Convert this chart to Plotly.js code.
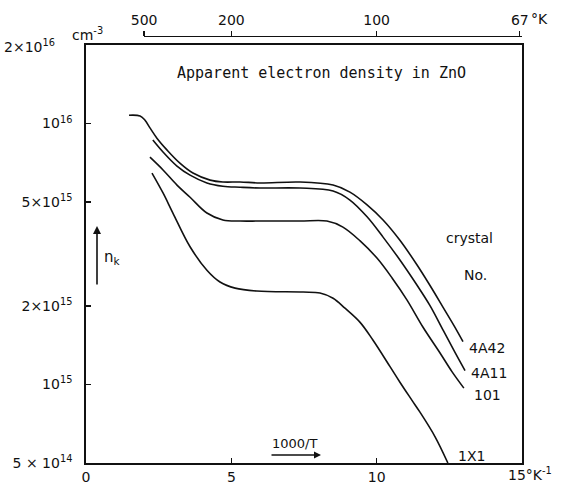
<!DOCTYPE html>
<html>
<head>
<meta charset="utf-8">
<script src="https://cdn.plot.ly/plotly-3.0.1.min.js"></script>
<style>html,body{margin:0;padding:0;background:#fff;}#chart{width:563px;height:485px;}</style>
</head>
<body>
<div id="chart"></div>
<script>
// 1000/T (K^-1) and apparent electron density n_k (cm^-3) per crystal
const x4A42 = [1.48, 1.86, 2.03, 2.20, 2.44, 2.79, 3.23, 3.68, 4.27, 4.71, 5.30, 5.99, 7.36, 8.50, 9.08, 9.67, 10.22, 10.80, 11.39, 11.83, 12.28, 12.69, 12.97];
const n4A42 = [1.076e16, 1.069e16, 1.030e16, 9.62e15, 8.79e15, 7.91e15, 7.05e15, 6.46e15, 6.07e15, 5.97e15, 5.97e15, 5.92e15, 5.97e15, 5.81e15, 5.46e15, 4.88e15, 4.27e15, 3.57e15, 2.87e15, 2.40e15, 1.98e15, 1.66e15, 1.46e15];

const x4A11 = [2.30, 2.65, 3.13, 3.58, 4.16, 4.71, 5.30, 5.99, 7.36, 8.50, 9.08, 9.67, 10.22, 10.80, 11.39, 11.83, 12.28, 12.69, 13.04];
const n4A11 = [8.65e15, 7.78e15, 6.87e15, 6.34e15, 5.92e15, 5.75e15, 5.70e15, 5.66e15, 5.66e15, 5.51e15, 5.09e15, 4.39e15, 3.67e15, 3.00e15, 2.40e15, 2.01e15, 1.62e15, 1.33e15, 1.13e15];

const x101 = [2.20, 2.65, 3.13, 3.58, 4.16, 4.71, 5.30, 5.99, 7.36, 8.29, 8.84, 9.43, 10.01, 10.53, 11.04, 11.59, 12.18, 12.59, 13.00];
const n101 = [7.43e15, 6.64e15, 5.81e15, 5.22e15, 4.54e15, 4.27e15, 4.23e15, 4.23e15, 4.23e15, 4.23e15, 4.01e15, 3.55e15, 3.05e15, 2.56e15, 2.11e15, 1.66e15, 1.32e15, 1.12e15, 9.68e14];

const x1X1 = [2.27, 2.65, 2.99, 3.58, 4.16, 4.61, 5.13, 5.88, 7.47, 8.05, 8.50, 8.91, 9.43, 9.87, 10.46, 10.80, 11.21, 11.49, 12.01, 12.45];
const n1X1 = [6.46e15, 5.42e15, 4.54e15, 3.37e15, 2.74e15, 2.47e15, 2.34e15, 2.28e15, 2.26e15, 2.24e15, 2.14e15, 1.96e15, 1.73e15, 1.48e15, 1.17e15, 1.02e15, 8.71e14, 7.83e14, 6.30e14, 5.00e14];

const crystalNames = ['4A42', '4A11', '101', '1X1'];

// axis ticks
const xTickVals = [0, 5, 10, 15];
const xTickText = ['0', '5', '10', ''];
const yTickVals = [5e14, 1e15, 2e15, 5e15, 1e16];
const yTickText = ['5 × 10<sup>14</sup>', '10<sup>15</sup>', '2×10<sup>15</sup>', '5×10<sup>15</sup>', '10<sup>16</sup>'];
const tempTicks = [500, 200, 100, 67];
const tempText = ['500', '200', '100', '67'];

const FONT = 'DejaVu Sans, Liberation Sans, sans-serif';
const MONO = 'DejaVu Sans Mono, Liberation Mono, monospace';
const INK = '#111';

const series = [[x4A42, n4A42], [x4A11, n4A11], [x101, n101], [x1X1, n1X1]];
const traces = series.map((s, i) => ({
  type: 'scatter', mode: 'lines', x: s[0], y: s[1], name: crystalNames[i],
  line: {color: INK, width: 1.6, shape: 'spline', smoothing: 1},
  hoverinfo: 'skip'
}));
// carrier for top temperature axis
traces.push({
  type: 'scatter', mode: 'markers', x: tempTicks.map(T => 1000 / T), y: tempTicks.map(() => 1e15),
  xaxis: 'x2', yaxis: 'y', marker: {opacity: 0, size: 1}, hoverinfo: 'skip', showlegend: false
});

// pixel helpers for paper coordinates (plot area: x 86..522, y 36..463)
const px = v => (v - 86) / 436;
const py = v => (463 - v) / 427;

const ann = (text, x, y, xa, size, extra) => Object.assign({
  text: text, xref: 'paper', yref: 'paper', x: px(x), y: py(y),
  xanchor: xa, yanchor: 'middle', showarrow: false,
  font: {family: FONT, size: size, color: INK}
}, extra || {});

const annotations = [
  ann('Apparent electron density in ZnO', 321, 73, 'center', 15, {font: {family: MONO, size: 15, color: INK}}),
  ann('crystal', 469, 238, 'center', 14),
  ann('No.', 475, 275, 'center', 14),
  ann(crystalNames[0], 467, 348, 'left', 14),
  ann(crystalNames[1], 469, 373, 'left', 14),
  ann(crystalNames[2], 472, 395, 'left', 14),
  ann(crystalNames[3], 456, 456, 'left', 14),
  ann('2×10<sup>16</sup>', 2, 46, 'left', 14),
  ann('cm<sup>-3</sup>', 70, 34, 'left', 14),
  ann('°K', 529, 19, 'left', 14),
  ann('15°K<sup>-1</sup>', 506, 474, 'left', 14),
  ann('n<sub>k</sub>', 102, 257, 'left', 15),
  ann('1000/T', 294, 443, 'center', 13),
  // arrows
  {text: '', xref: 'paper', yref: 'paper', x: px(97), y: py(226), ax: 0, ay: 60,
   showarrow: true, arrowhead: 2, arrowsize: 1, arrowwidth: 1.6, arrowcolor: INK, standoff: 0, startstandoff: 0},
  {text: '', xref: 'paper', yref: 'paper', x: px(321), y: py(455), ax: -51, ay: 0,
   showarrow: true, arrowhead: 2, arrowsize: 1, arrowwidth: 1.4, arrowcolor: INK, standoff: 0, startstandoff: 0}
];

const layout = {
  width: 563, height: 485,
  margin: {l: 86, r: 41, t: 36, b: 22, pad: 0},
  paper_bgcolor: '#fff', plot_bgcolor: 'rgba(0,0,0,0)',
  showlegend: false,
  font: {family: FONT, size: 14, color: INK},
  xaxis: {
    range: [0, 15], showgrid: false, zeroline: false,
    showline: true, linecolor: INK, linewidth: 1.8, mirror: true,
    ticks: 'inside', ticklen: 5, tickwidth: 1.3, tickcolor: INK,
    tickmode: 'array', tickvals: xTickVals, ticktext: xTickText,
    tickfont: {family: FONT, size: 14, color: INK}, ticklabelstandoff: 0
  },
  xaxis2: {
    range: [2, 15], domain: [2 / 15, 1], anchor: 'free', position: 1, side: 'top',
    showgrid: false, zeroline: false, showline: true, linecolor: INK, linewidth: 1.3,
    ticks: 'outside', ticklen: 5, tickwidth: 1.3, tickcolor: INK,
    tickmode: 'array', tickvals: tempTicks.map(T => 1000 / T), ticktext: tempText,
    tickfont: {family: FONT, size: 14, color: INK}
  },
  yaxis: {
    type: 'log', range: [Math.log10(5e14), Math.log10(2e16)], domain: [0, 418 / 427],
    showgrid: false, zeroline: false,
    showline: true, linecolor: INK, linewidth: 1.8, mirror: true,
    ticks: 'inside', ticklen: 5, tickwidth: 1.3, tickcolor: INK,
    tickmode: 'array', tickvals: yTickVals, ticktext: yTickText,
    tickfont: {family: FONT, size: 14, color: INK}, ticklabelstandoff: 9
  },
  annotations: annotations
};

Plotly.newPlot('chart', traces, layout, {staticPlot: true, displayModeBar: false});
</script>
</body>
</html>
